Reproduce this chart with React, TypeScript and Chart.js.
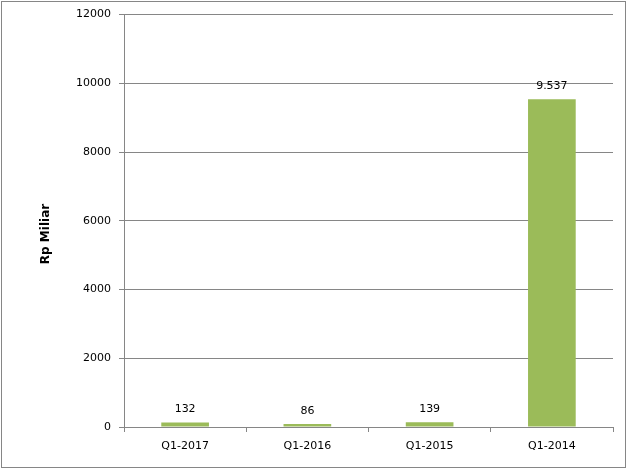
import React, { useEffect, useRef } from "react";
import { Chart, registerables } from "chart.js";

Chart.register(...registerables);

const categories = ["Q1-2017", "Q1-2016", "Q1-2015", "Q1-2014"];
const values = [132, 86, 139, 9537];
const yTicks = [0, 2000, 4000, 6000, 8000, 10000, 12000];
const yTitle = "Rp Miliar";

const FONT = "'DejaVu Sans', Verdana, sans-serif";
const GRAY = "#868686";

function fmt(v: number): string {
  return String(v).replace(/\B(?=(\d{3})+(?!\d))/g, ".");
}

const borderPlugin = {
  id: "outerBorder",
  afterDraw(chart: any) {
    const ctx = chart.ctx;
    ctx.save();
    ctx.strokeStyle = GRAY;
    ctx.lineWidth = 1;
    ctx.strokeRect(1.5, 1.5, 624, 466);
    ctx.fillStyle = "#000";
    ctx.font = `bold 12px ${FONT}`;
    ctx.textAlign = "center";
    ctx.textBaseline = "middle";
    ctx.translate(46, 234);
    ctx.rotate(-Math.PI / 2);
    ctx.fillText(yTitle, 0, 0);
    ctx.restore();
  },
};

const labelPlugin = {
  id: "barLabels",
  afterDatasetsDraw(chart: any) {
    const ctx = chart.ctx;
    const meta = chart.getDatasetMeta(0);
    ctx.save();
    ctx.font = `11px ${FONT}`;
    ctx.fillStyle = "#000";
    ctx.textAlign = "center";
    ctx.textBaseline = "middle";
    meta.data.forEach((bar: any, i: number) => {
      ctx.fillText(fmt(values[i]), bar.x, bar.y - 13);
    });
    ctx.restore();
  },
};

export default function App() {
  const ref = useRef<HTMLCanvasElement | null>(null);
  useEffect(() => {
    document.body.style.margin = "0";
    document.body.style.overflow = "hidden";
    if (!ref.current) return;
    const chart = new Chart(ref.current, {
      type: "bar",
      data: {
        labels: categories,
        datasets: [
          {
            data: values,
            backgroundColor: "#9BBB59",
            barPercentage: 0.39,
            categoryPercentage: 1,
          },
        ],
      },
      options: {
        animation: false,
        responsive: false,
        layout: { padding: { left: 0, top: 14, right: 16, bottom: 0 } },
        plugins: { legend: { display: false }, tooltip: { enabled: false } },
        scales: {
          x: {
            afterFit(scale: any) {
              scale.height = 42;
            },
            grid: {
              offset: true,
              drawOnChartArea: false,
              tickLength: 5,
              color: GRAY,
            },
            border: { color: GRAY },
            ticks: {
              color: "#000",
              font: { family: FONT, size: 11 },
              padding: 8,
            },
          },
          y: {
            min: 0,
            max: 12000,
            afterFit(scale: any) {
              scale.width = 124;
            },
            afterBuildTicks(scale: any) {
              scale.ticks = yTicks.map((v) => ({ value: v }));
            },
            grid: { color: GRAY, tickLength: 5 },
            border: { color: GRAY },
            ticks: {
              color: "#000",
              font: { family: FONT, size: 11 },
              padding: 8,
              callback: (v: any) => String(v),
            },
          },
        },
      },
      plugins: [borderPlugin, labelPlugin],
    });
    return () => chart.destroy();
  }, []);
  return (
    <div style={{ width: 629, height: 469 }}>
      <canvas ref={ref} width={629} height={469} style={{ display: "block" }} />
    </div>
  );
}
